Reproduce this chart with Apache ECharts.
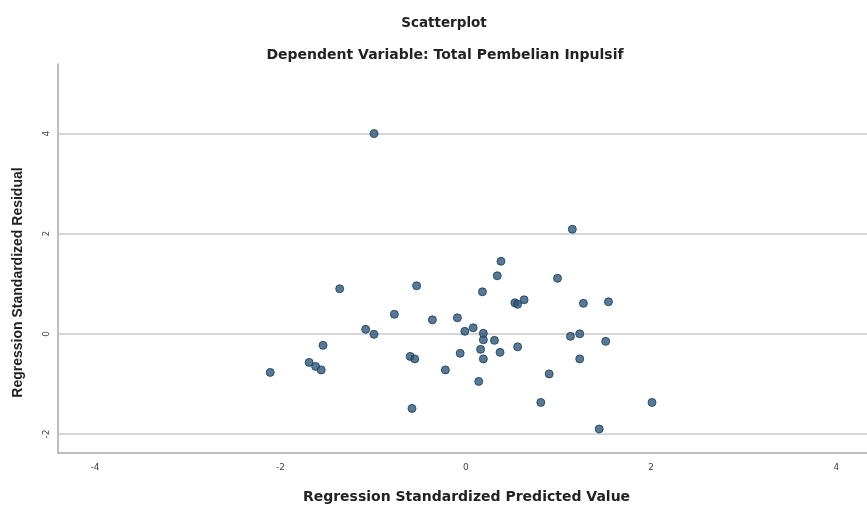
<!DOCTYPE html>
<html>
<head>
<meta charset="utf-8">
<title>Scatterplot</title>
<script src="https://cdn.jsdelivr.net/npm/echarts@6/dist/echarts.min.js"></script>
<style>
    html, body { margin: 0; padding: 0; background: #fff; }
    #scatter { width: 867px; height: 509px; }
</style>
</head>
<body>
<div id="scatter"></div>
<script>
// Regression Standardized Predicted Value (x)
var predicted = [
    -2.11, -1.69, -1.62, -1.56, -1.54, -1.36, -1.08, -0.99, -0.99, -0.77,
    -0.53, -0.60, -0.55, -0.58, -0.36, -0.22, -0.09, -0.01, 0.08, -0.06,
    0.14, 0.19, 0.19, 0.16, 0.19, 0.31, 0.37, 0.56, 0.38, 0.34,
    0.18, 0.53, 0.56, 0.63, 0.99, 1.15, 1.27, 1.54, 1.13, 1.23,
    1.51, 1.23, 0.90, 0.81, 2.01, 1.44
];
// Regression Standardized Residual (y)
var residual = [
    -0.77, -0.57, -0.65, -0.72, -0.23, 0.90, 0.09, -0.01, 4.00, 0.39,
    0.96, -0.45, -0.50, -1.49, 0.28, -0.72, 0.32, 0.05, 0.12, -0.39,
    -0.95, 0.01, -0.12, -0.31, -0.50, -0.13, -0.37, -0.26, 1.45, 1.16,
    0.84, 0.62, 0.59, 0.68, 1.11, 2.09, 0.61, 0.64, -0.05, 0.00,
    -0.15, -0.50, -0.80, -1.37, -1.37, -1.90
];
var xTicks = [-4, -2, 0, 2, 4];
var yTicks = [-2, 0, 2, 4];

var points = [];
for (var i = 0; i < predicted.length; i++) {
    points.push([predicted[i], residual[i]]);
}

var myChart = echarts.init(document.getElementById('scatter'));
var option = {
    backgroundColor: '#ffffff',
    animation: false,
    textStyle: { fontFamily: 'DejaVu Sans' },
    title: [
        {
            text: 'Scatterplot',
            left: 439,
            top: 11,
            textAlign: 'center',
            textStyle: { fontFamily: 'DejaVu Sans', fontSize: 13.5, fontWeight: 'bold', color: '#222' }
        },
        {
            text: 'Dependent Variable: Total Pembelian Inpulsif',
            left: 440,
            top: 43,
            textAlign: 'center',
            textStyle: { fontFamily: 'DejaVu Sans', fontSize: 14, fontWeight: 'bold', color: '#222' }
        }
    ],
    grid: {
        left: 58,
        right: 0,
        top: 64,
        bottom: 56
    },
    xAxis: {
        type: 'value',
        min: -4.4,
        max: 4.33,
        name: 'Regression Standardized Predicted Value',
        nameLocation: 'middle',
        nameGap: 37,
        nameTextStyle: { fontFamily: 'DejaVu Sans', fontSize: 14, fontWeight: 'bold', color: '#222', padding: [0, 0, 0, 8] },
        axisLine: { show: true, onZero: false, lineStyle: { color: '#a8a8a8', width: 1.5 } },
        axisTick: { show: false, customValues: xTicks },
        axisLabel: { customValues: xTicks, fontSize: 9, color: '#444', margin: 10 },
        splitLine: { show: false }
    },
    yAxis: {
        type: 'value',
        min: -2.38,
        max: 5.39,
        name: 'Regression Standardized Residual',
        nameLocation: 'middle',
        nameGap: 33,
        nameTextStyle: { fontFamily: 'Liberation Sans', fontSize: 14, fontWeight: 'bold', color: '#222', padding: [0, 48, 0, 0] },
        axisLine: { show: true, onZero: false, lineStyle: { color: '#a8a8a8', width: 1.5 } },
        axisTick: { show: false, customValues: yTicks },
        axisLabel: { customValues: yTicks, fontSize: 9, color: '#444', rotate: 90, margin: 7 },
        splitLine: { show: true, lineStyle: { color: '#d6d6d6', width: 2 } }
    },
    series: [
        {
            type: 'scatter',
            data: points,
            symbolSize: 8,
            itemStyle: {
                color: '#2c587a',
                borderColor: '#1c3a55',
                borderWidth: 1
            }
        }
    ]
};
myChart.setOption(option);
</script>
</body>
</html>
